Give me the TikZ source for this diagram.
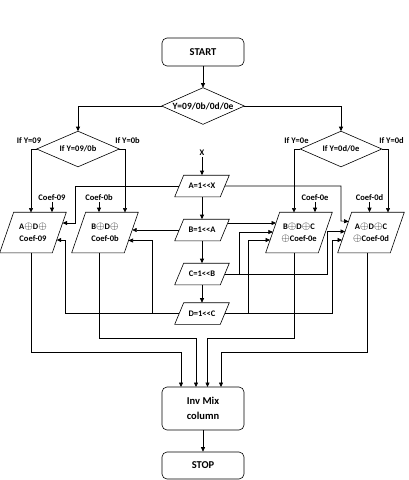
\documentclass[tikz,border=0pt]{standalone}
\usepackage{fontspec}
\setmainfont{Carlito}
\usetikzlibrary{arrows.meta,calc}
\newcommand{\xo}{{\fontsize{10.5}{12}\selectfont$\oplus$}}
\begin{document}
\begin{tikzpicture}[x=1pt,y=-1pt,
  font=\bfseries\fontsize{8.5}{12}\selectfont,
  line width=0.6pt,
  arr/.style={-{Triangle[length=4.5pt,width=4pt]}},
  rbox/.style={draw,rounded corners=5pt,minimum width=82pt,inner sep=0pt,align=center,
    font=\bfseries\fontsize{10.5}{15}\selectfont},
  dbox/.style={inner sep=0pt,minimum width=82pt,minimum height=35pt},
  pbig/.style={inner sep=0pt,minimum width=52pt,minimum height=40pt,align=center},
  psmall/.style={inner sep=0pt,minimum width=45pt,minimum height=21pt},
  lab/.style={inner sep=1pt}
]
\useasboundingbox (0,0) rectangle (409,480);

% terminals and decisions
\node[rbox,minimum height=28pt] (start) at (203,52) {START};
\node[dbox,minimum height=36pt,font=\bfseries\fontsize{9.5}{12}\selectfont] (dm) at (203,106) {Y=09/0b/0d/0e};
\node[dbox] (dl) at (78,149) {If Y=09/0b};
\node[dbox,minimum width=81pt] (dr) at (341,149) {If Y=0d/0e};
\node[lab] (l09) at (29,141) {If Y=09};
\node[lab] (l0b) at (127.5,141) {If Y=0b};
\node[lab] (l0e) at (296.5,141) {If Y=0e};
\node[lab] (l0d) at (391.5,141) {If Y=0d};

% middle chain
\node[lab] (x) at (202,153) {X};
\node[psmall] (A) at (202,186) {A=1<{}<X};
\node[psmall] (B) at (202,230) {B=1<{}<A};
\node[psmall] (C) at (202,274) {C=1<{}<B};
\node[psmall] (D) at (202,313.5) {D=1<{}<C};

% coefficient labels
\node[lab] (c09) at (52,197.5) {Coef-09};
\node[lab] (c0b) at (99,197.5) {Coef-0b};
\node[lab] (c0e) at (315,197.5) {Coef-0e};
\node[lab] (c0d) at (369.5,197.5) {Coef-0d};

% xor blocks
\node[pbig] (P1) at (33,232.5) {A\xo D\xo\\Coef-09};
\node[pbig] (P2) at (105,232.5) {B\xo D\xo\\Coef-0b};
\node[pbig] (P3) at (299,232.5) {B\xo D\xo C\\\xo Coef-0e};
\node[pbig] (P4) at (371,232.5) {A\xo D\xo C\\\xo Coef-0d};

\node[rbox,minimum height=43pt] (inv) at (203,408.5) {Inv Mix\\column};
\node[rbox,minimum height=27pt] (stop) at (203,465.5) {STOP};

% outlines
\foreach \n in {dm,dl,dr}
  \draw (\n.north) -- (\n.east) -- (\n.south) -- (\n.west) -- cycle;
\foreach \n in {P1,P2,P3,P4}
  \draw ($(\n.north west)+(7,0)$) -- ($(\n.north east)+(7,0)$)
     -- ($(\n.south east)+(-7,0)$) -- ($(\n.south west)+(-7,0)$) -- cycle;
\foreach \n in {A,B,C,D}
  \draw ($(\n.north west)+(4.5,0)$) -- ($(\n.north east)+(4.5,0)$)
     -- ($(\n.south east)+(-4.5,0)$) -- ($(\n.south west)+(-4.5,0)$) -- cycle;

% helper coordinates
\coordinate (k1) at (31,212.5);
\coordinate (k2) at (125,212.5);
\coordinate (k3) at (294,212.5);
\coordinate (k4) at (388,212.5);
\coordinate (e1) at ($(P1.east)+(3.3,-9.5)$);
\coordinate (e2) at ($(P1.east)+(-2.6,7.5)$);
\coordinate (e3) at ($(P2.east)+(-2.8,8)$);
\coordinate (e4) at ($(P2.east)+(0.9,-2.5)$);
\coordinate (s1) at ($(B.east)+(3,-7)$);
\coordinate (e5) at ($(P3.west)+(3.3,-9.5)$);
\coordinate (e6) at ($(P3.west)+(0.2,-0.5)$);
\coordinate (e7) at ($(P3.west)+(-2.6,7.5)$);
\coordinate (e8) at ($(P4.west)+(0.4,-1)$);
\coordinate (e9) at ($(P4.west)+(-2.6,7.5)$);
\coordinate (e10) at ($(P4.west)+(3.9,-11)$);
\coordinate (j1) at (152,313.5);
\coordinate (j2) at (239,274);
\coordinate (j3) at (327,274);
\coordinate (j4) at (248,313.5);
\coordinate (j5) at (332,313.5);
\coordinate (o1) at (31,252.5);
\coordinate (o2) at (99,252.5);
\coordinate (o3) at (294,252.5);
\coordinate (o4) at (367,252.5);
\coordinate (i1) at (181,387);
\coordinate (i2) at (196,387);
\coordinate (i3) at (207.5,387);
\coordinate (i4) at (221,387);

% connectors
\draw[arr] (start.south) -- (dm.north);
\draw[arr] (dm.west) -| (dl.north);
\draw[arr] (dm.east) -| (dr.north);
\draw[arr] (dl.west) -| (k1);
\draw[arr] (dl.east) -| (k2);
\draw[arr] (dr.west) -| (k3);
\draw[arr] (dr.east) -| (k4);
\draw[arr] (c09) -- (c09 |- P1.north);
\draw[arr] (c0b) -- (c0b |- P2.north);
\draw[arr] (c0e) -- (c0e |- P3.north);
\draw[arr] (c0d) -- (c0d |- P4.north);

\draw[arr] (x) -- (A.north);
\draw[arr] (A.south) -- (B.north);
\draw[arr] (B.south) -- (C.north);
\draw[arr] (C.south) -- (D.north);

\draw[arr] (A.west) -| (75,223) -- (e1);
\draw[arr] (A.east) -| (341,221) -- (e10);
\draw[arr] (B.west) -- (e4);
\draw[arr] (s1) -- (e5);
\draw[arr] (C.east) -- (j3) |- (e8);
\draw[arr] (j2) |- (e6);
\draw[arr] (D.west) -| (65,240) -- (e2);
\draw[arr] (j1) |- (e3);
\draw[arr] (D.east) -- (j5) |- (e9);
\draw[arr] (j4) |- (e7);

\draw[arr] (o1) |- (181,352.5) -- (i1);
\draw[arr] (o2) |- (196,338.5) -- (i2);
\draw[arr] (o3) |- (207.5,338.5) -- (i3);
\draw[arr] (o4) |- (221,352.5) -- (i4);
\draw[arr] (inv.south) -- (stop.north);
\end{tikzpicture}
\end{document}
